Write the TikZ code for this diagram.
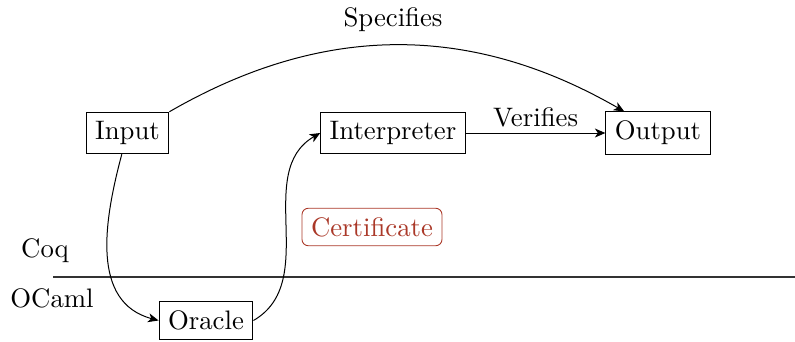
\documentclass[tikz,border=0pt]{standalone}
\usetikzlibrary{arrows.meta}
\definecolor{certred}{RGB}{170,56,40}
\begin{document}
\begin{tikzpicture}[x=0.4pt,y=-0.4pt,
  every node/.style={font=\fontsize{10.7}{13}\selectfont},
  block/.style={draw,rectangle,inner sep=3.6pt},
  cert/.style={draw=certred,text=certred,rounded corners=2.5pt,inner sep=3.6pt,line width=0.35pt},
  link/.style={-{Stealth[length=4.2pt,width=3.6pt,inset=1.2pt]}}]
  \useasboundingbox (0,0) rectangle (795,341);

  % language boundary
  \coordinate (sepL) at (53,277);
  \coordinate (sepR) at (795,277);
  \draw[line width=0.45pt,black!80] (sepL) -- (sepR);
  \node (coq)   at (45,251) {Coq};
  \node (ocaml) at (52,298) {OCaml};

  % components
  \node[block] (input)  at (127.5,133) {Input};
  \node[block] (interp) at (393,133)   {Interpreter};
  \node[block] (output) at (658,133)   {Output};
  \node[block] (oracle) at (206,320.5) {Oracle};
  \node[cert]  (certif) at (372,227)   {Certificate};

  % flows
  \draw[link] (input.north east) to[bend left=30] (output);
  \node (spec) at (393,20) {Specifies};
  \draw[link] (interp) -- node[above,yshift=-1pt] {Verifies} (output);
  \draw[link] (input) to[out=-105,in=165,looseness=1.05] (oracle.west);
  \draw[link] (oracle.east) to[out=30,in=210] (interp.west);
\end{tikzpicture}
\end{document}
